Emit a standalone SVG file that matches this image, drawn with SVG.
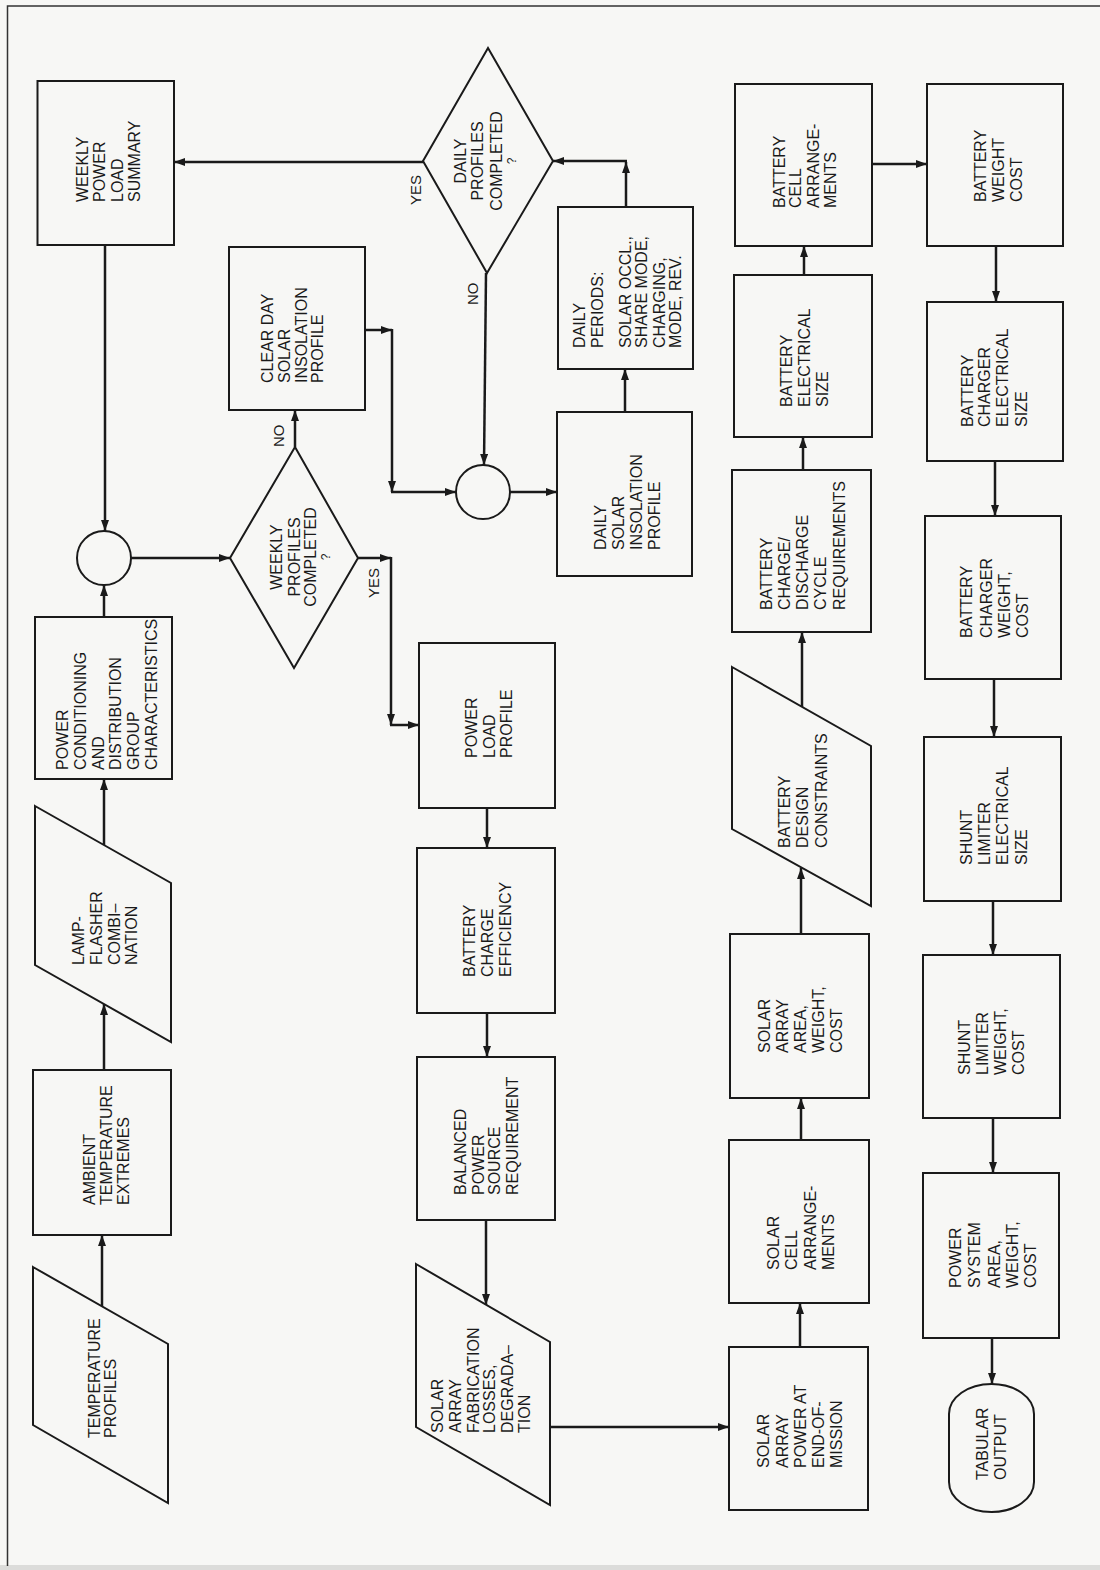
<svg xmlns="http://www.w3.org/2000/svg" width="1100" height="1570" viewBox="0 0 1100 1570">
<defs>
<marker id="ah" markerUnits="userSpaceOnUse" markerWidth="12" markerHeight="9" refX="11" refY="4" orient="auto">
<path d="M0,0 L11,4 L0,8 z" fill="#1a1a1a"/>
</marker>
<style>
.b{fill:none;stroke:#1a1a1a;stroke-width:2}
.c{fill:none;stroke:#1a1a1a;stroke-width:2.5;marker-end:url(#ah)}
.t{font-family:"Liberation Sans",Arial,sans-serif;font-size:16px;fill:#1a1a1a}
.m{text-anchor:middle}
.q{font-size:12px}
.l{font-family:"Liberation Sans",Arial,sans-serif;font-size:15px;fill:#1a1a1a}
</style>
</defs>
<rect x="0" y="0" width="1100" height="1570" fill="#f7f7f5"/>
<rect x="0" y="1565" width="1100" height="5" fill="#dcdcda"/>
<path d="M7.5,1566 L7.5,6 L1100,6" fill="none" stroke="#333" stroke-width="1.5"/>

<g id="weekly-power-load-summary">
<rect class="b" x="37.5" y="81" width="136.5" height="164"/>
<text class="t" transform="translate(87.5,202) rotate(-90)"><tspan x="0" y="0">WEEKLY</tspan><tspan x="0" y="17.5">POWER</tspan><tspan x="0" y="35">LOAD</tspan><tspan x="0" y="52.5">SUMMARY</tspan></text>
</g>
<g id="junction-weekly">
<circle class="b" cx="104" cy="558" r="27"/>
</g>
<g id="power-conditioning">
<rect class="b" x="35" y="617" width="137" height="162"/>
<text class="t" transform="translate(68,770) rotate(-90)"><tspan x="0" y="0">POWER</tspan><tspan x="0" y="17.8">CONDITIONING</tspan><tspan x="0" y="35.6">AND</tspan><tspan x="0" y="53.4">DISTRIBUTION</tspan><tspan x="0" y="71.2">GROUP</tspan><tspan x="0" y="89">CHARACTERISTICS</tspan></text>
</g>
<g id="lamp-flasher">
<polygon class="b" points="35,806 171,883 171,1042 35,965"/>
<text class="t" transform="translate(84,965) rotate(-90)"><tspan x="0" y="0">LAMP-</tspan><tspan x="0" y="18">FLASHER</tspan><tspan x="0" y="36">COMBI–</tspan><tspan x="0" y="53">NATION</tspan></text>
</g>
<g id="ambient-temperature">
<rect class="b" x="33" y="1070" width="138" height="165"/>
<text class="t" transform="translate(95,1205) rotate(-90)"><tspan x="0" y="0">AMBIENT</tspan><tspan x="0" y="17">TEMPERATURE</tspan><tspan x="0" y="34">EXTREMES</tspan></text>
</g>
<g id="temperature-profiles">
<polygon class="b" points="33,1267 168,1344 168,1503 33,1425"/>
<text class="t" transform="translate(100,1438) rotate(-90)"><tspan x="0" y="0">TEMPERATURE</tspan><tspan x="0" y="16">PROFILES</tspan></text>
</g>

<g id="clear-day-solar">
<rect class="b" x="229" y="247" width="136" height="163"/>
<text class="t" transform="translate(273,383) rotate(-90)"><tspan x="0" y="0">CLEAR DAY</tspan><tspan x="0" y="16.5">SOLAR</tspan><tspan x="0" y="33.5">INSOLATION</tspan><tspan x="0" y="50">PROFILE</tspan></text>
</g>
<g id="weekly-decision">
<polygon class="b" points="230,558 295,447 358,558 294,668"/>
<text class="t m" transform="translate(282,557) rotate(-90)"><tspan x="0" y="0">WEEKLY</tspan><tspan x="0" y="18">PROFILES</tspan><tspan x="0" y="34">COMPLETED</tspan><tspan class="q" x="0" y="48">?</tspan></text>
</g>

<g id="daily-decision">
<polygon class="b" points="423,161 488,48 553,161 487,273"/>
<text class="t m" transform="translate(466,161) rotate(-90)"><tspan x="0" y="0">DAILY</tspan><tspan x="0" y="17">PROFILES</tspan><tspan x="0" y="36">COMPLETED</tspan><tspan class="q" x="0" y="50">?</tspan></text>
</g>
<g id="junction-daily">
<circle class="b" cx="483" cy="492" r="27"/>
</g>
<g id="power-load-profile">
<rect class="b" x="419" y="643" width="136" height="165"/>
<text class="t" transform="translate(477,758) rotate(-90)"><tspan x="0" y="0">POWER</tspan><tspan x="0" y="18">LOAD</tspan><tspan x="0" y="35">PROFILE</tspan></text>
</g>
<g id="battery-charge-efficiency">
<rect class="b" x="417" y="848" width="138" height="165"/>
<text class="t" transform="translate(475,977) rotate(-90)"><tspan x="0" y="0">BATTERY</tspan><tspan x="0" y="18">CHARGE</tspan><tspan x="0" y="36">EFFICIENCY</tspan></text>
</g>
<g id="balanced-power">
<rect class="b" x="417" y="1057" width="138" height="163"/>
<text class="t" transform="translate(466,1195) rotate(-90)"><tspan x="0" y="0">BALANCED</tspan><tspan x="0" y="18">POWER</tspan><tspan x="0" y="34">SOURCE</tspan><tspan x="0" y="52">REQUIREMENT</tspan></text>
</g>
<g id="solar-array-losses">
<polygon class="b" points="416,1264 550,1342 550,1505 416,1427"/>
<text class="t" transform="translate(443,1433) rotate(-90)"><tspan x="0" y="0">SOLAR</tspan><tspan x="0" y="18">ARRAY</tspan><tspan x="0" y="36">FABRICATION</tspan><tspan x="0" y="52">LOSSES,</tspan><tspan x="0" y="70">DEGRADA–</tspan><tspan x="0" y="87">TION</tspan></text>
</g>

<g id="daily-periods">
<rect class="b" x="558" y="207" width="135" height="162"/>
<text class="t" transform="translate(585,348) rotate(-90)"><tspan x="0" y="0">DAILY</tspan><tspan x="0" y="18">PERIODS:</tspan><tspan x="0" y="46">SOLAR OCCL.,</tspan><tspan x="0" y="62">SHARE MODE,</tspan><tspan x="0" y="80">CHARGING,</tspan><tspan x="0" y="96">MODE, REV.</tspan></text>
</g>
<g id="daily-solar">
<rect class="b" x="557" y="412" width="135" height="164"/>
<text class="t" transform="translate(606,550) rotate(-90)"><tspan x="0" y="0">DAILY</tspan><tspan x="0" y="18">SOLAR</tspan><tspan x="0" y="36">INSOLATION</tspan><tspan x="0" y="54">PROFILE</tspan></text>
</g>

<g id="battery-cell-arrangements">
<rect class="b" x="735" y="84" width="137" height="162"/>
<text class="t" transform="translate(785,208) rotate(-90)"><tspan x="0" y="0">BATTERY</tspan><tspan x="0" y="16">CELL</tspan><tspan x="0" y="34">ARRANGE-</tspan><tspan x="0" y="51">MENTS</tspan></text>
</g>
<g id="battery-electrical-size">
<rect class="b" x="734" y="275" width="138" height="162"/>
<text class="t" transform="translate(792,407) rotate(-90)"><tspan x="0" y="0">BATTERY</tspan><tspan x="0" y="18">ELECTRICAL</tspan><tspan x="0" y="36">SIZE</tspan></text>
</g>
<g id="battery-cycle-requirements">
<rect class="b" x="732" y="470" width="139" height="162"/>
<text class="t" transform="translate(772,610) rotate(-90)"><tspan x="0" y="0">BATTERY</tspan><tspan x="0" y="18">CHARGE/</tspan><tspan x="0" y="36">DISCHARGE</tspan><tspan x="0" y="54">CYCLE</tspan><tspan x="0" y="73">REQUIREMENTS</tspan></text>
</g>
<g id="battery-design-constraints">
<polygon class="b" points="732,667 871,746 871,906 732,829"/>
<text class="t" transform="translate(790,848) rotate(-90)"><tspan x="0" y="0">BATTERY</tspan><tspan x="0" y="18">DESIGN</tspan><tspan x="0" y="37">CONSTRAINTS</tspan></text>
</g>
<g id="solar-array-area">
<rect class="b" x="730" y="934" width="139" height="164"/>
<text class="t" transform="translate(770,1053) rotate(-90)"><tspan x="0" y="0">SOLAR</tspan><tspan x="0" y="18">ARRAY</tspan><tspan x="0" y="36">AREA,</tspan><tspan x="0" y="54">WEIGHT,</tspan><tspan x="0" y="72">COST</tspan></text>
</g>
<g id="solar-cell-arrangements">
<rect class="b" x="729" y="1140" width="140" height="163"/>
<text class="t" transform="translate(779,1270) rotate(-90)"><tspan x="0" y="0">SOLAR</tspan><tspan x="0" y="18">CELL</tspan><tspan x="0" y="37">ARRANGE-</tspan><tspan x="0" y="55">MENTS</tspan></text>
</g>
<g id="solar-array-power">
<rect class="b" x="729" y="1347" width="139" height="163"/>
<text class="t" transform="translate(769,1468) rotate(-90)"><tspan x="0" y="0">SOLAR</tspan><tspan x="0" y="19">ARRAY</tspan><tspan x="0" y="37">POWER AT</tspan><tspan x="0" y="55">END-OF-</tspan><tspan x="0" y="73">MISSION</tspan></text>
</g>

<g id="battery-weight-cost">
<rect class="b" x="927" y="84" width="136" height="162"/>
<text class="t" transform="translate(986,202) rotate(-90)"><tspan x="0" y="0">BATTERY</tspan><tspan x="0" y="18">WEIGHT</tspan><tspan x="0" y="36">COST</tspan></text>
</g>
<g id="charger-electrical-size">
<rect class="b" x="927" y="302" width="136" height="159"/>
<text class="t" transform="translate(973,427) rotate(-90)"><tspan x="0" y="0">BATTERY</tspan><tspan x="0" y="17">CHARGER</tspan><tspan x="0" y="35">ELECTRICAL</tspan><tspan x="0" y="54">SIZE</tspan></text>
</g>
<g id="charger-weight-cost">
<rect class="b" x="925" y="516" width="136" height="163"/>
<text class="t" transform="translate(972,638) rotate(-90)"><tspan x="0" y="0">BATTERY</tspan><tspan x="0" y="20">CHARGER</tspan><tspan x="0" y="38">WEIGHT,</tspan><tspan x="0" y="56">COST</tspan></text>
</g>
<g id="shunt-electrical-size">
<rect class="b" x="924" y="737" width="137" height="164"/>
<text class="t" transform="translate(972,865) rotate(-90)"><tspan x="0" y="0">SHUNT</tspan><tspan x="0" y="18">LIMITER</tspan><tspan x="0" y="36">ELECTRICAL</tspan><tspan x="0" y="55">SIZE</tspan></text>
</g>
<g id="shunt-weight-cost">
<rect class="b" x="923" y="955" width="137" height="163"/>
<text class="t" transform="translate(970,1075) rotate(-90)"><tspan x="0" y="0">SHUNT</tspan><tspan x="0" y="18">LIMITER</tspan><tspan x="0" y="36">WEIGHT,</tspan><tspan x="0" y="54">COST</tspan></text>
</g>
<g id="power-system">
<rect class="b" x="923" y="1173" width="136" height="165"/>
<text class="t" transform="translate(961,1288) rotate(-90)"><tspan x="0" y="0">POWER</tspan><tspan x="0" y="19">SYSTEM</tspan><tspan x="0" y="39">AREA,</tspan><tspan x="0" y="57">WEIGHT,</tspan><tspan x="0" y="75">COST</tspan></text>
</g>
<g id="tabular-output">
<rect class="b" x="949" y="1384" width="85" height="128" rx="42.5" ry="30"/>
<text class="t" transform="translate(988,1480) rotate(-90)"><tspan x="0" y="0">TABULAR</tspan><tspan x="0" y="18">OUTPUT</tspan></text>
</g>

<g id="connectors">
<line class="c" x1="105" y1="245" x2="105" y2="531"/>
<line class="c" x1="104" y1="617" x2="104" y2="585"/>
<line class="c" x1="104" y1="845" x2="104" y2="779"/>
<line class="c" x1="104" y1="1070" x2="104" y2="1004"/>
<line class="c" x1="102" y1="1306" x2="102" y2="1235"/>
<line class="c" x1="131" y1="558" x2="230" y2="558"/>
<line class="c" x1="295" y1="447" x2="295" y2="410"/>
<line class="c" x1="358" y1="558" x2="391" y2="558"/>
<line class="c" x1="391" y1="557" x2="391" y2="725"/>
<line class="c" x1="390" y1="725" x2="419" y2="725"/>
<line class="c" x1="365" y1="330" x2="392" y2="330"/>
<line class="c" x1="392" y1="329" x2="392" y2="492"/>
<line class="c" x1="391" y1="492" x2="456" y2="492"/>
<line class="c" x1="486" y1="273" x2="484" y2="465"/>
<line class="c" x1="510" y1="492" x2="557" y2="492"/>
<line class="c" x1="625" y1="412" x2="625" y2="369"/>
<line class="c" x1="626" y1="207" x2="626" y2="162"/>
<line class="c" x1="627" y1="161" x2="553" y2="161"/>
<line class="c" x1="423" y1="162" x2="174" y2="162"/>
<line class="c" x1="487" y1="808" x2="487" y2="848"/>
<line class="c" x1="487" y1="1013" x2="487" y2="1057"/>
<line class="c" x1="486" y1="1220" x2="486" y2="1305"/>
<line class="c" x1="550" y1="1427" x2="729" y2="1427"/>
<line class="c" x1="800" y1="1347" x2="800" y2="1303"/>
<line class="c" x1="801" y1="1140" x2="801" y2="1098"/>
<line class="c" x1="801" y1="934" x2="801" y2="868"/>
<line class="c" x1="802" y1="707" x2="802" y2="632"/>
<line class="c" x1="803" y1="470" x2="803" y2="437"/>
<line class="c" x1="804" y1="275" x2="804" y2="246"/>
<line class="c" x1="872" y1="164" x2="927" y2="164"/>
<line class="c" x1="996" y1="246" x2="996" y2="302"/>
<line class="c" x1="995" y1="461" x2="995" y2="516"/>
<line class="c" x1="994" y1="679" x2="994" y2="737"/>
<line class="c" x1="993" y1="901" x2="993" y2="955"/>
<line class="c" x1="993" y1="1118" x2="993" y2="1173"/>
<line class="c" x1="992" y1="1338" x2="992" y2="1384"/>
<text class="l" transform="translate(421,205) rotate(-90)">YES</text>
<text class="l" transform="translate(478,305) rotate(-90)">NO</text>
<text class="l" transform="translate(284,447) rotate(-90)">NO</text>
<text class="l" transform="translate(379,598) rotate(-90)">YES</text>
</g>
</svg>
